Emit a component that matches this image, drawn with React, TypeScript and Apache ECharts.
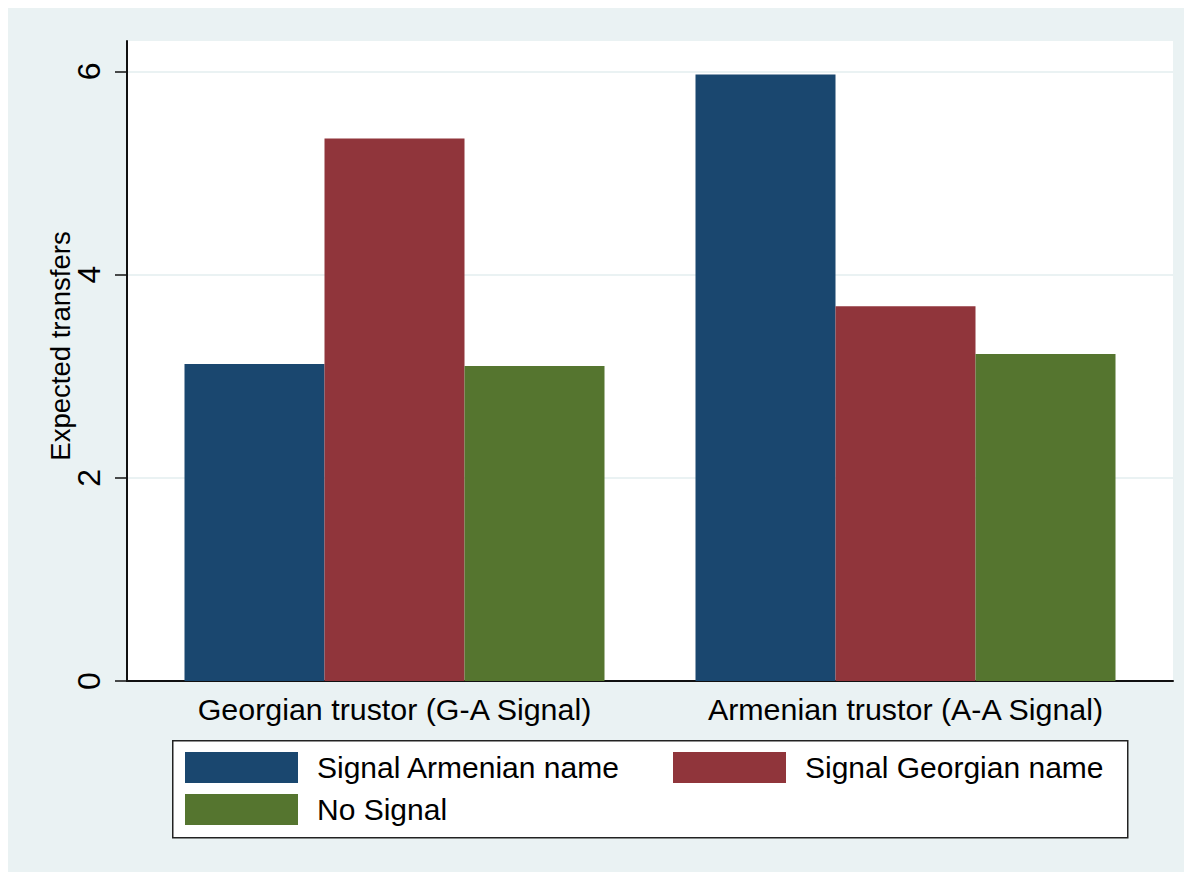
import React, { useEffect, useRef } from "react";
import * as echarts from "echarts";

const categories = ["Georgian trustor (G-A Signal)", "Armenian trustor (A-A Signal)"];
const seriesNames = ["Signal Armenian name", "Signal Georgian name", "No Signal"];
const signalArmenian = [3.12, 5.97];
const signalGeorgian = [5.34, 3.69];
const noSignal = [3.1, 3.22];
const yTicks = [0, 2, 4, 6];
const yTitle = "Expected transfers";

const colors = ["#1A476F", "#90353B", "#55752F"];
const FONT = "'Liberation Sans', Arial, sans-serif";

export default function App() {
  const ref = useRef<HTMLDivElement>(null);
  useEffect(() => {
    document.documentElement.style.overflow = "hidden";
    const chart = echarts.init(ref.current!, undefined, { renderer: "svg" });
    const values = [signalArmenian, signalGeorgian, noSignal];
    chart.setOption({
      animation: false,
      backgroundColor: "#EAF2F3",
      textStyle: { fontFamily: FONT },
      grid: [
        { left: 119, right: 19, top: 33, bottom: 191, show: true, backgroundColor: "#ffffff", borderWidth: 0 },
        { left: 131, right: 31, top: 33, bottom: 191 },
      ],
      xAxis: [
        {
          type: "category",
          gridIndex: 0,
          data: categories,
          axisLine: { show: true, lineStyle: { color: "#111", width: 2 } },
          axisTick: { show: false },
          axisLabel: { show: false },
          splitLine: { show: false },
        },
        {
          type: "category",
          gridIndex: 1,
          data: categories,
          axisLine: { show: false },
          axisTick: { show: false },
          axisLabel: { show: true, interval: 0, hideOverlap: false, color: "#000", fontSize: 30.4, fontFamily: FONT, margin: 13 },
          splitLine: { show: false },
        },
      ],
      yAxis: [
        {
          type: "value",
          gridIndex: 0,
          min: 0,
          max: 6.3,
          interval: 2,
          name: yTitle,
          nameLocation: "middle",
          nameGap: 53,
          nameMoveOverlap: false,
          nameTextStyle: { color: "#000", fontSize: 27.5, fontFamily: FONT, padding: [0, 0, 0, 30] },
          axisLine: { show: true, lineStyle: { color: "#111", width: 2 } },
          axisTick: { show: true, length: 12, lineStyle: { color: "#111", width: 1.5 }, customValues: yTicks },
          axisLabel: {
            show: true,
            rotate: 90,
            color: "#000",
            fontSize: 32,
            fontFamily: FONT,
            margin: 22,
            customValues: yTicks,
            formatter: (v: number) => String(v),
          },
          splitLine: { show: true, lineStyle: { color: "#EAF2F3", width: 2 } },
        },
        {
          type: "value",
          gridIndex: 1,
          min: 0,
          max: 6.3,
          show: false,
          splitLine: { show: false },
        },
      ],
      legend: [
        {
          orient: "vertical",
          left: 172,
          top: 739,
          itemWidth: 113,
          itemHeight: 31,
          itemGap: 11,
          icon: "rect",
          data: [seriesNames[0], seriesNames[2]],
          textStyle: { color: "#000", fontSize: 30, fontFamily: FONT, padding: [0, 0, 0, 14] },
        },
        {
          orient: "vertical",
          left: 660,
          top: 739,
          itemWidth: 113,
          itemHeight: 31,
          itemGap: 11,
          icon: "rect",
          data: [seriesNames[1]],
          textStyle: { color: "#000", fontSize: 30, fontFamily: FONT, padding: [0, 0, 0, 14] },
        },
      ],
      graphic: [
        {
          type: "rect",
          left: 164,
          top: 732,
          z: 0,
          shape: { width: 955, height: 97 },
          style: { fill: "#ffffff", stroke: "#222", lineWidth: 1.5 },
        },
      ],
      series: seriesNames.map((name, i) => ({
        name,
        type: "bar",
        xAxisIndex: 1,
        yAxisIndex: 1,
        data: values[i],
        barWidth: 140,
        barGap: "0%",
        itemStyle: { color: colors[i] },
      })),
    });
    return () => chart.dispose();
  }, []);
  return <div ref={ref} style={{ width: 1184, height: 864 }} />;
}
